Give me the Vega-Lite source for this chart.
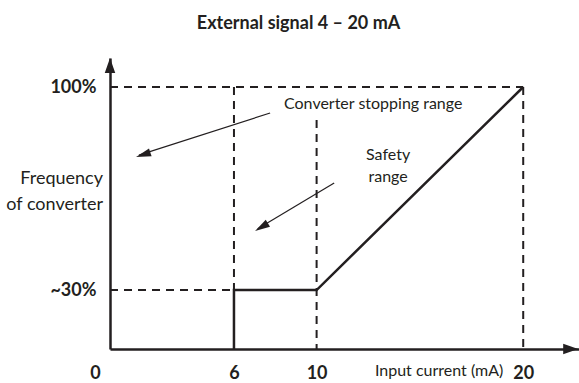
{
  "$schema": "https://vega.github.io/schema/vega-lite/v6.json",
  "width": 469,
  "height": 291,
  "autosize": {"type": "none"},
  "padding": {"left": 110, "top": 58, "right": 0, "bottom": 34},
  "config": {"view": {"stroke": null}, "font": "Lato"},
  "title": {
    "text": "External signal 4 – 20 mA",
    "font": "Lato",
    "fontSize": 18,
    "fontWeight": "bold",
    "color": "#231f20",
    "anchor": "middle",
    "frame": "group",
    "baseline": "alphabetic",
    "dx": -46,
    "offset": 11
  },
  "datasets": {
    "dashed": [
      {"seg": "h100", "o": 1, "x": 0, "y": 100},
      {"seg": "h100", "o": 2, "x": 20, "y": 100},
      {"seg": "h30", "o": 1, "x": 0, "y": 30},
      {"seg": "h30", "o": 2, "x": 6, "y": 30},
      {"seg": "v6", "o": 1, "x": 6, "y": 100},
      {"seg": "v6", "o": 2, "x": 6, "y": 30},
      {"seg": "v10", "o": 1, "x": 10, "y": 89.7},
      {"seg": "v10", "o": 2, "x": 10, "y": 0},
      {"seg": "v20", "o": 1, "x": 20, "y": 100},
      {"seg": "v20", "o": 2, "x": 20, "y": 0}
    ],
    "solid": [
      {"o": 1, "x": 6, "y": 0},
      {"o": 2, "x": 6, "y": 30},
      {"o": 3, "x": 10, "y": 30},
      {"o": 4, "x": 20, "y": 100}
    ],
    "arrows": [
      {"seg": "a1", "o": 1, "x": 7.75, "y": 91.9},
      {"seg": "a1", "o": 2, "x": 1.4, "y": 78.4},
      {"seg": "a2", "o": 1, "x": 10.85, "y": 69.2},
      {"seg": "a2", "o": 2, "x": 7.15, "y": 53.3}
    ]
  },
  "encoding": {
    "x": {
      "field": "x",
      "type": "quantitative",
      "scale": {"domain": [0, 22.7], "nice": false, "zero": false},
      "axis": {
        "values": [0, 6, 10, 20],
        "title": null,
        "grid": false,
        "ticks": false,
        "domain": true,
        "domainColor": "#231f20",
        "domainWidth": 2.5,
        "labelFont": "Lato",
        "labelFontSize": 18,
        "labelFontWeight": "bold",
        "labelColor": "#231f20",
        "labelPadding": 15,
        "labelFlush": false,
        "labelOverlap": false,
        "labelOffset": {"condition": {"test": "datum.value === 0", "value": -15}, "value": 0}
      }
    },
    "y": {
      "field": "y",
      "type": "quantitative",
      "scale": {"type": "pow", "exponent": 1.2386, "domain": [0, 108.85], "nice": false},
      "axis": {
        "values": [30, 100],
        "labelExpr": "datum.value === 30 ? '~30%' : '100%'",
        "title": null,
        "grid": false,
        "ticks": false,
        "domain": true,
        "domainColor": "#231f20",
        "domainWidth": 2.5,
        "labelFont": "Lato",
        "labelFontSize": 18,
        "labelFontWeight": "bold",
        "labelColor": "#231f20",
        "labelPadding": 14,
        "labelFlush": false,
        "labelOverlap": false
      }
    }
  },
  "layer": [
    {
      "data": {"name": "dashed"},
      "mark": {"type": "line", "strokeDash": [8, 6], "strokeWidth": 2, "color": "#231f20"},
      "encoding": {"detail": {"field": "seg"}, "order": {"field": "o"}}
    },
    {
      "data": {"name": "solid"},
      "mark": {"type": "line", "strokeWidth": 2.5, "color": "#231f20"},
      "encoding": {"order": {"field": "o"}}
    },
    {
      "data": {"name": "arrows"},
      "mark": {"type": "line", "strokeWidth": 1.2, "color": "#231f20"},
      "encoding": {"detail": {"field": "seg"}, "order": {"field": "o"}}
    },
    {
      "data": {"values": [{"x": 1.26, "y": 77.8}]},
      "mark": {"type": "point", "shape": "M0,0L-0.55,2L0.55,2Z", "filled": true, "size": 225, "angle": 252, "color": "#231f20", "opacity": 1, "strokeWidth": 0}
    },
    {
      "data": {"values": [{"x": 7.02, "y": 52.5}]},
      "mark": {"type": "point", "shape": "M0,0L-0.55,2L0.55,2Z", "filled": true, "size": 225, "angle": 239, "color": "#231f20", "opacity": 1, "strokeWidth": 0}
    },
    {
      "data": {"values": [{"x": 0, "y": 108.85}]},
      "mark": {"type": "point", "shape": "M0,0L-0.7,2L0.7,2Z", "filled": true, "size": 225, "angle": 0, "color": "#231f20", "opacity": 1, "strokeWidth": 0}
    },
    {
      "data": {"values": [{"x": 22.66, "y": 0}]},
      "mark": {"type": "point", "shape": "M0,0L-0.7,2L0.7,2Z", "filled": true, "size": 225, "angle": 90, "color": "#231f20", "opacity": 1, "strokeWidth": 0}
    },
    {
      "data": {"values": [
        {"x": 12.74, "y": 94.7, "label": "Converter stopping range"},
        {"x": 13.46, "y": 78.5, "label": "Safety\nrange"}
      ]},
      "mark": {"type": "text", "font": "Lato", "fontSize": 16, "color": "#231f20", "align": "center", "baseline": "middle", "lineBreak": "\n", "lineHeight": 22},
      "encoding": {"text": {"field": "label"}}
    },
    {
      "data": {"values": [{"x": 0, "y": 70.5, "label": "Frequency\nof converter"}]},
      "mark": {"type": "text", "font": "Lato", "fontSize": 18, "color": "#231f20", "align": "right", "baseline": "middle", "dx": -7, "lineBreak": "\n", "lineHeight": 26},
      "encoding": {"text": {"field": "label"}}
    },
    {
      "data": {"values": [{"x": 15.93, "y": 0, "label": "Input current (mA)"}]},
      "mark": {"type": "text", "font": "Lato", "fontSize": 16, "color": "#231f20", "align": "center", "baseline": "middle", "dy": 22},
      "encoding": {"text": {"field": "label"}}
    }
  ]
}
